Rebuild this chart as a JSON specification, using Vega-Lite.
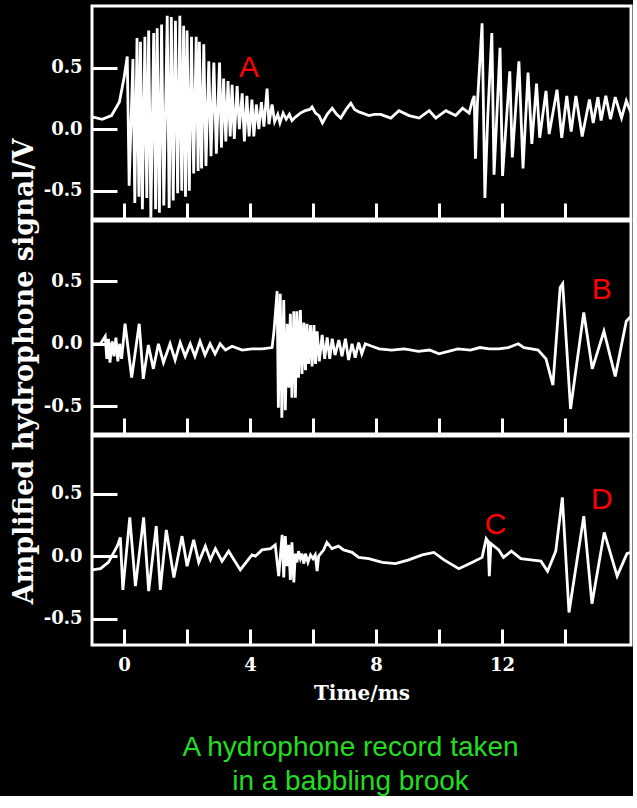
{
  "$schema": "https://vega.github.io/schema/vega-lite/v6.json",
  "background": "black",
  "padding": {"left": 8, "top": 4, "right": 0, "bottom": 0},
  "spacing": 2,
  "bounds": "flush",
  "config": {
    "view": {"stroke": "white", "strokeWidth": 3},
    "axis": {"domain": false, "grid": false, "tickColor": "white", "tickWidth": 3, "labelColor": "white", "labelFont": "DejaVu Serif", "labelFontWeight": "bold", "labelFontSize": 18, "titleColor": "white", "titleFont": "DejaVu Serif", "titleFontWeight": "bold"},
    "line": {"color": "white", "strokeWidth": 2.8}
  },
  "title": {
    "text": ["A hydrophone record taken", "in a babbling brook"],
    "orient": "bottom", "anchor": "middle", "frame": "group",
    "color": "#22dd22", "font": "Liberation Sans", "fontWeight": "normal", "fontSize": 28, "lineHeight": 34, "offset": 29, "dx": -11
  },
  "datasets": {
    "p1": [
      {"t": -1.02, "v": 0.10}, {"t": -0.7, "v": 0.08}, {"t": -0.4, "v": 0.11}, {"t": -0.15, "v": 0.22}, {"t": 0.0, "v": 0.42},
      {"t": 0.1, "v": 0.59}, {"t": 0.16, "v": -0.46}, {"t": 0.28, "v": 0.57}, {"t": 0.34, "v": -0.60}, {"t": 0.41, "v": 0.74},
      {"t": 0.47, "v": -0.55}, {"t": 0.52, "v": 0.71}, {"t": 0.58, "v": -0.65}, {"t": 0.66, "v": 0.75}, {"t": 0.72, "v": -0.56},
      {"t": 0.78, "v": 0.80}, {"t": 0.85, "v": -0.72}, {"t": 0.94, "v": 0.78}, {"t": 1.0, "v": -0.65}, {"t": 1.05, "v": 0.82},
      {"t": 1.12, "v": -0.68}, {"t": 1.19, "v": 0.85}, {"t": 1.26, "v": -0.62}, {"t": 1.37, "v": 0.92}, {"t": 1.43, "v": -0.64},
      {"t": 1.50, "v": 0.91}, {"t": 1.56, "v": -0.58}, {"t": 1.63, "v": 0.88}, {"t": 1.70, "v": -0.52}, {"t": 1.77, "v": 0.92},
      {"t": 1.83, "v": -0.50}, {"t": 1.89, "v": 0.84}, {"t": 1.95, "v": -0.55}, {"t": 2.0, "v": 0.80}, {"t": 2.07, "v": -0.50},
      {"t": 2.14, "v": 0.75}, {"t": 2.21, "v": -0.36}, {"t": 2.29, "v": 0.75}, {"t": 2.35, "v": -0.34}, {"t": 2.39, "v": 0.71},
      {"t": 2.46, "v": -0.32}, {"t": 2.53, "v": 0.69}, {"t": 2.60, "v": -0.30}, {"t": 2.69, "v": 0.55}, {"t": 2.76, "v": -0.22},
      {"t": 2.85, "v": 0.54}, {"t": 2.93, "v": -0.20}, {"t": 3.03, "v": 0.54}, {"t": 3.09, "v": -0.15}, {"t": 3.16, "v": 0.41},
      {"t": 3.23, "v": -0.10}, {"t": 3.30, "v": 0.39}, {"t": 3.37, "v": -0.06}, {"t": 3.43, "v": 0.36}, {"t": 3.50, "v": -0.08},
      {"t": 3.59, "v": 0.35}, {"t": 3.66, "v": 0.0}, {"t": 3.75, "v": 0.29}, {"t": 3.82, "v": -0.10}, {"t": 3.90, "v": 0.27},
      {"t": 3.97, "v": -0.06}, {"t": 4.06, "v": 0.24}, {"t": 4.12, "v": -0.06}, {"t": 4.2, "v": 0.20}, {"t": 4.28, "v": 0.0},
      {"t": 4.36, "v": 0.22}, {"t": 4.44, "v": 0.02}, {"t": 4.54, "v": 0.33}, {"t": 4.6, "v": 0.04}, {"t": 4.7, "v": 0.20},
      {"t": 4.78, "v": 0.06}, {"t": 4.88, "v": 0.12}, {"t": 4.95, "v": 0.05}, {"t": 5.05, "v": 0.13}, {"t": 5.15, "v": 0.08},
      {"t": 5.25, "v": 0.12}, {"t": 5.33, "v": 0.07}, {"t": 5.45, "v": 0.10}, {"t": 5.6, "v": 0.13}, {"t": 5.75, "v": 0.15},
      {"t": 5.9, "v": 0.16}, {"t": 5.97, "v": 0.18}, {"t": 6.08, "v": 0.13}, {"t": 6.19, "v": 0.11}, {"t": 6.3, "v": 0.05},
      {"t": 6.45, "v": 0.12}, {"t": 6.61, "v": 0.17}, {"t": 6.75, "v": 0.12}, {"t": 6.88, "v": 0.09}, {"t": 7.05, "v": 0.16},
      {"t": 7.2, "v": 0.21}, {"t": 7.32, "v": 0.16}, {"t": 7.46, "v": 0.14}, {"t": 7.78, "v": 0.11}, {"t": 7.95, "v": 0.12},
      {"t": 8.15, "v": 0.12}, {"t": 8.47, "v": 0.09}, {"t": 8.73, "v": 0.15}, {"t": 9.05, "v": 0.11}, {"t": 9.37, "v": 0.09},
      {"t": 9.69, "v": 0.15}, {"t": 9.9, "v": 0.09}, {"t": 10.22, "v": 0.15}, {"t": 10.53, "v": 0.11}, {"t": 10.75, "v": 0.17},
      {"t": 10.96, "v": 0.13}, {"t": 11.06, "v": 0.23}, {"t": 11.12, "v": 0.27}, {"t": 11.16, "v": -0.24}, {"t": 11.22, "v": 0.20},
      {"t": 11.37, "v": 0.86}, {"t": 11.46, "v": -0.56}, {"t": 11.55, "v": 0.10}, {"t": 11.68, "v": 0.78}, {"t": 11.75, "v": -0.37},
      {"t": 11.94, "v": 0.66}, {"t": 12.02, "v": -0.38}, {"t": 12.25, "v": 0.47}, {"t": 12.33, "v": -0.23}, {"t": 12.54, "v": 0.55},
      {"t": 12.67, "v": -0.32}, {"t": 12.83, "v": 0.46}, {"t": 12.95, "v": -0.12}, {"t": 13.1, "v": 0.37}, {"t": 13.2, "v": -0.07},
      {"t": 13.4, "v": 0.31}, {"t": 13.5, "v": -0.04}, {"t": 13.75, "v": 0.32}, {"t": 13.9, "v": -0.07}, {"t": 14.06, "v": 0.27},
      {"t": 14.2, "v": -0.02}, {"t": 14.35, "v": 0.27}, {"t": 14.55, "v": -0.06}, {"t": 14.78, "v": 0.24}, {"t": 14.9, "v": 0.05},
      {"t": 15.05, "v": 0.26}, {"t": 15.15, "v": 0.07}, {"t": 15.3, "v": 0.27}, {"t": 15.45, "v": 0.08}, {"t": 15.6, "v": 0.26},
      {"t": 15.8, "v": 0.09}, {"t": 15.95, "v": 0.23}, {"t": 16.1, "v": 0.13}
    ],
    "p2": [
      {"t": -1.02, "v": 0.0}, {"t": -0.75, "v": 0.0}, {"t": -0.6, "v": 0.06}, {"t": -0.55, "v": -0.12}, {"t": -0.5, "v": 0.04},
      {"t": -0.45, "v": -0.15}, {"t": -0.38, "v": 0.02}, {"t": -0.32, "v": -0.10}, {"t": -0.26, "v": 0.05}, {"t": -0.2, "v": -0.14},
      {"t": -0.14, "v": 0.0}, {"t": -0.08, "v": -0.12}, {"t": 0.03, "v": 0.16}, {"t": 0.24, "v": -0.27}, {"t": 0.48, "v": 0.16},
      {"t": 0.61, "v": -0.28}, {"t": 0.77, "v": -0.01}, {"t": 0.93, "v": -0.20}, {"t": 1.09, "v": 0.0}, {"t": 1.25, "v": -0.15},
      {"t": 1.46, "v": 0.0}, {"t": 1.62, "v": -0.13}, {"t": 1.78, "v": 0.01}, {"t": 1.94, "v": -0.10}, {"t": 2.1, "v": 0.0},
      {"t": 2.25, "v": -0.10}, {"t": 2.41, "v": 0.02}, {"t": 2.57, "v": -0.09}, {"t": 2.73, "v": 0.0}, {"t": 2.89, "v": -0.08},
      {"t": 3.05, "v": 0.0}, {"t": 3.22, "v": -0.05}, {"t": 3.43, "v": -0.02}, {"t": 3.75, "v": -0.05}, {"t": 4.06, "v": -0.04},
      {"t": 4.38, "v": -0.04}, {"t": 4.70, "v": -0.03}, {"t": 4.76, "v": 0.10}, {"t": 4.86, "v": 0.42}, {"t": 4.90, "v": -0.51},
      {"t": 4.96, "v": 0.40}, {"t": 5.01, "v": -0.59}, {"t": 5.07, "v": 0.35}, {"t": 5.12, "v": -0.53}, {"t": 5.18, "v": 0.16},
      {"t": 5.23, "v": -0.35}, {"t": 5.28, "v": 0.24}, {"t": 5.33, "v": -0.43}, {"t": 5.39, "v": 0.26}, {"t": 5.44, "v": -0.43},
      {"t": 5.49, "v": 0.26}, {"t": 5.54, "v": -0.27}, {"t": 5.60, "v": 0.27}, {"t": 5.65, "v": -0.24}, {"t": 5.71, "v": 0.17},
      {"t": 5.76, "v": -0.21}, {"t": 5.81, "v": 0.16}, {"t": 5.86, "v": -0.16}, {"t": 5.92, "v": 0.15}, {"t": 5.97, "v": -0.18},
      {"t": 6.03, "v": 0.15}, {"t": 6.08, "v": -0.16}, {"t": 6.13, "v": 0.10}, {"t": 6.2, "v": -0.14}, {"t": 6.29, "v": 0.07},
      {"t": 6.37, "v": -0.12}, {"t": 6.45, "v": 0.05}, {"t": 6.53, "v": -0.12}, {"t": 6.61, "v": 0.04}, {"t": 6.7, "v": -0.09},
      {"t": 6.82, "v": 0.03}, {"t": 6.92, "v": -0.10}, {"t": 7.03, "v": 0.04}, {"t": 7.13, "v": -0.13}, {"t": 7.24, "v": 0.0},
      {"t": 7.34, "v": -0.11}, {"t": 7.45, "v": 0.01}, {"t": 7.55, "v": -0.08}, {"t": 7.66, "v": 0.0}, {"t": 7.87, "v": -0.02},
      {"t": 8.1, "v": -0.04}, {"t": 8.5, "v": -0.05}, {"t": 8.9, "v": -0.04}, {"t": 9.35, "v": -0.06}, {"t": 9.7, "v": -0.05},
      {"t": 10.0, "v": -0.08}, {"t": 10.3, "v": -0.06}, {"t": 10.6, "v": -0.04}, {"t": 11.0, "v": -0.05}, {"t": 11.3, "v": -0.03},
      {"t": 11.6, "v": -0.04}, {"t": 11.9, "v": -0.04}, {"t": 12.2, "v": -0.03}, {"t": 12.52, "v": 0.0}, {"t": 12.7, "v": -0.03},
      {"t": 12.94, "v": -0.04}, {"t": 13.15, "v": -0.05}, {"t": 13.4, "v": -0.12}, {"t": 13.62, "v": -0.33}, {"t": 13.85, "v": 0.45},
      {"t": 13.93, "v": 0.48}, {"t": 14.18, "v": -0.52}, {"t": 14.6, "v": 0.25}, {"t": 14.87, "v": -0.20}, {"t": 15.24, "v": 0.10},
      {"t": 15.6, "v": -0.26}, {"t": 15.95, "v": 0.18}, {"t": 16.1, "v": 0.22}
    ],
    "p3": [
      {"t": -1.02, "v": -0.11}, {"t": -0.75, "v": -0.10}, {"t": -0.5, "v": -0.05}, {"t": -0.22, "v": 0.08}, {"t": -0.12, "v": 0.15},
      {"t": -0.04, "v": -0.27}, {"t": 0.18, "v": 0.31}, {"t": 0.36, "v": -0.24}, {"t": 0.62, "v": 0.31}, {"t": 0.78, "v": -0.28},
      {"t": 1.02, "v": 0.24}, {"t": 1.15, "v": -0.27}, {"t": 1.34, "v": 0.21}, {"t": 1.58, "v": -0.17}, {"t": 1.84, "v": 0.16},
      {"t": 2.0, "v": -0.08}, {"t": 2.21, "v": 0.13}, {"t": 2.37, "v": -0.05}, {"t": 2.58, "v": 0.08}, {"t": 2.74, "v": -0.03},
      {"t": 2.90, "v": 0.06}, {"t": 3.11, "v": -0.04}, {"t": 3.32, "v": 0.04}, {"t": 3.69, "v": -0.11}, {"t": 4.06, "v": 0.01},
      {"t": 4.17, "v": 0.0}, {"t": 4.38, "v": 0.05}, {"t": 4.65, "v": 0.06}, {"t": 4.80, "v": 0.09}, {"t": 4.91, "v": -0.16},
      {"t": 5.02, "v": 0.17}, {"t": 5.07, "v": -0.17}, {"t": 5.12, "v": 0.16}, {"t": 5.17, "v": -0.08}, {"t": 5.23, "v": 0.09},
      {"t": 5.28, "v": -0.19}, {"t": 5.33, "v": 0.11}, {"t": 5.39, "v": -0.21}, {"t": 5.44, "v": 0.02}, {"t": 5.49, "v": -0.05},
      {"t": 5.54, "v": 0.04}, {"t": 5.60, "v": -0.02}, {"t": 5.65, "v": 0.02}, {"t": 5.71, "v": -0.06}, {"t": 5.76, "v": 0.02},
      {"t": 5.84, "v": -0.05}, {"t": 5.92, "v": 0.01}, {"t": 6.0, "v": -0.02}, {"t": 6.07, "v": 0.01}, {"t": 6.13, "v": -0.12},
      {"t": 6.18, "v": 0.0}, {"t": 6.34, "v": 0.05}, {"t": 6.44, "v": 0.11}, {"t": 6.6, "v": 0.06}, {"t": 6.81, "v": 0.08},
      {"t": 6.97, "v": 0.05}, {"t": 7.24, "v": 0.03}, {"t": 7.45, "v": -0.01}, {"t": 7.77, "v": -0.02}, {"t": 8.2, "v": -0.05},
      {"t": 8.62, "v": -0.06}, {"t": 9.04, "v": -0.03}, {"t": 9.47, "v": 0.01}, {"t": 9.84, "v": 0.03}, {"t": 10.16, "v": -0.03},
      {"t": 10.63, "v": -0.10}, {"t": 11.05, "v": -0.05}, {"t": 11.37, "v": -0.01}, {"t": 11.5, "v": 0.14}, {"t": 11.56, "v": 0.12},
      {"t": 11.6, "v": -0.16}, {"t": 11.65, "v": 0.10}, {"t": 11.9, "v": 0.05}, {"t": 12.05, "v": -0.01}, {"t": 12.3, "v": 0.04},
      {"t": 12.6, "v": -0.02}, {"t": 12.92, "v": -0.03}, {"t": 13.24, "v": -0.04}, {"t": 13.45, "v": -0.12}, {"t": 13.71, "v": 0.04},
      {"t": 13.92, "v": 0.47}, {"t": 14.13, "v": -0.45}, {"t": 14.6, "v": 0.32}, {"t": 14.86, "v": -0.38}, {"t": 15.25, "v": 0.19},
      {"t": 15.66, "v": -0.16}, {"t": 15.97, "v": 0.02}, {"t": 16.1, "v": 0.03}
    ],
    "labels": [
      {"panel": 1, "t": 3.97, "v": 0.50, "label": "A"},
      {"panel": 2, "t": 15.17, "v": 0.43, "label": "B"},
      {"panel": 3, "t": 11.8, "v": 0.25, "label": "C"},
      {"panel": 3, "t": 15.17, "v": 0.45, "label": "D"}
    ]
  },
  "vconcat": [
    {
      "width": 539, "height": 213,
      "layer": [
        {
          "data": {"name": "p1"},
          "mark": {"type": "line", "clip": true},
          "encoding": {
            "x": {"field": "t", "type": "quantitative", "scale": {"domain": [-1.02, 16.1], "nice": false, "zero": false},
                  "axis": {"values": [0, 2, 4, 6, 8, 10, 12, 14], "labels": false, "tickSize": -16, "title": null}},
            "y": {"field": "v", "type": "quantitative", "scale": {"domain": [-0.73, 1.0], "nice": false, "zero": false},
                  "axis": {"values": [-0.5, 0, 0.5], "tickSize": -25, "labelPadding": 35, "title": null,
                           "labelExpr": "datum.value < 0 ? '-' + format(-datum.value, '.1f') : format(datum.value, '.1f')"}}
          }
        },
        {
          "data": {"name": "labels"},
          "transform": [{"filter": "datum.panel == 1"}],
          "mark": {"type": "text", "color": "#ff0000", "font": "Liberation Sans", "fontSize": 30, "align": "center", "baseline": "middle"},
          "encoding": {
            "x": {"field": "t", "type": "quantitative"},
            "y": {"field": "v", "type": "quantitative"},
            "text": {"field": "label"}
          }
        }
      ]
    },
    {
      "width": 539, "height": 213,
      "layer": [
        {
          "data": {"name": "p2"},
          "mark": {"type": "line", "clip": true},
          "encoding": {
            "x": {"field": "t", "type": "quantitative", "scale": {"domain": [-1.02, 16.1], "nice": false, "zero": false},
                  "axis": {"values": [0, 2, 4, 6, 8, 10, 12, 14], "labels": false, "tickSize": -16, "title": null}},
            "y": {"field": "v", "type": "quantitative", "scale": {"domain": [-0.72, 0.98], "nice": false, "zero": false},
                  "axis": {"values": [-0.5, 0, 0.5], "tickSize": -25, "labelPadding": 35,
                           "title": "Amplified hydrophone signal/V", "titleFontSize": 27, "titleX": -68, "titleY": 150,
                           "titleAngle": -90, "titleBaseline": "middle", "titleAlign": "center",
                           "labelExpr": "datum.value < 0 ? '-' + format(-datum.value, '.1f') : format(datum.value, '.1f')"}}
          }
        },
        {
          "data": {"name": "labels"},
          "transform": [{"filter": "datum.panel == 2"}],
          "mark": {"type": "text", "color": "#ff0000", "font": "Liberation Sans", "fontSize": 30, "align": "center", "baseline": "middle"},
          "encoding": {
            "x": {"field": "t", "type": "quantitative"},
            "y": {"field": "v", "type": "quantitative"},
            "text": {"field": "label"}
          }
        }
      ]
    },
    {
      "width": 539, "height": 209,
      "layer": [
        {
          "data": {"name": "p3"},
          "mark": {"type": "line", "clip": true},
          "encoding": {
            "x": {"field": "t", "type": "quantitative", "scale": {"domain": [-1.02, 16.1], "nice": false, "zero": false},
                  "axis": {"values": [0, 2, 4, 6, 8, 10, 12, 14], "tickSize": -16, "labelPadding": 27, "labelBaseline": "top",
                           "labelExpr": "datum.value % 4 == 0 ? datum.label : ''",
                           "title": "Time/ms", "titleFontSize": 20, "titlePadding": 9}},
            "y": {"field": "v", "type": "quantitative", "scale": {"domain": [-0.71, 0.96], "nice": false, "zero": false},
                  "axis": {"values": [-0.5, 0, 0.5], "tickSize": -25, "labelPadding": 35, "title": null,
                           "labelExpr": "datum.value < 0 ? '-' + format(-datum.value, '.1f') : format(datum.value, '.1f')"}}
          }
        },
        {
          "data": {"name": "labels"},
          "transform": [{"filter": "datum.panel == 3"}],
          "mark": {"type": "text", "color": "#ff0000", "font": "Liberation Sans", "fontSize": 30, "align": "center", "baseline": "middle"},
          "encoding": {
            "x": {"field": "t", "type": "quantitative"},
            "y": {"field": "v", "type": "quantitative"},
            "text": {"field": "label"}
          }
        }
      ]
    }
  ]
}
